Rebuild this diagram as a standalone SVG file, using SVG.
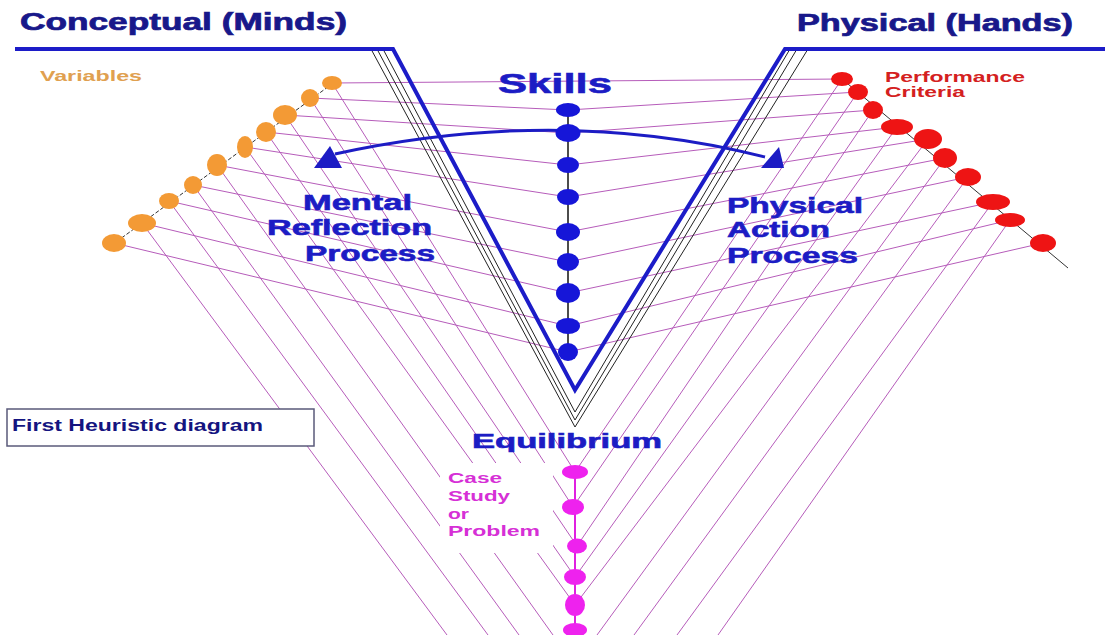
<svg xmlns="http://www.w3.org/2000/svg" width="1105" height="635" viewBox="0 0 1105 635">
<style>
text{font-family:"Liberation Sans",Arial,sans-serif;font-weight:bold}
.pk{stroke:#b65cba;stroke-width:1;fill:none}
.thin{stroke:#222;stroke-width:1;fill:none}
.navy{fill:#18188a;stroke:#18188a;stroke-width:0.7}
.blue{fill:#1c1cc4;stroke:#1c1cc4;stroke-width:0.6}
.or{fill:#f39a35}
.rd{fill:#ee1414}
.mg{fill:#ee22ee}
.sk{fill:#1616d8}
</style>
<rect width="1105" height="635" fill="#fff"/>
<g id="connectors">
<g class="pk">
<line x1="332" y1="83" x2="842" y2="79"/>
<line x1="310" y1="98" x2="568" y2="110"/>
<line x1="285" y1="115" x2="568" y2="133"/>
<line x1="266" y1="132" x2="568" y2="165"/>
<line x1="245" y1="147" x2="568" y2="197"/>
<line x1="217" y1="165" x2="568" y2="232"/>
<line x1="193" y1="185" x2="568" y2="262"/>
<line x1="169" y1="201" x2="568" y2="293"/>
<line x1="142" y1="223" x2="568" y2="326"/>
<line x1="114" y1="243" x2="568" y2="352"/>
<line x1="858" y1="92" x2="568" y2="110"/>
<line x1="873" y1="110" x2="568" y2="133"/>
<line x1="897" y1="127" x2="568" y2="165"/>
<line x1="928" y1="139" x2="568" y2="197"/>
<line x1="945" y1="158" x2="568" y2="232"/>
<line x1="968" y1="177" x2="568" y2="262"/>
<line x1="993" y1="202" x2="568" y2="293"/>
<line x1="1010" y1="220" x2="568" y2="326"/>
<line x1="1043" y1="243" x2="568" y2="352"/>
<line x1="332" y1="83" x2="575" y2="472"/>
<line x1="310" y1="98" x2="573" y2="507"/>
<line x1="285" y1="115" x2="577" y2="546"/>
<line x1="266" y1="132" x2="575" y2="577"/>
<line x1="245" y1="147" x2="575" y2="605"/>
<line x1="217" y1="165" x2="553" y2="635"/>
<line x1="193" y1="185" x2="519" y2="635"/>
<line x1="169" y1="201" x2="488" y2="635"/>
<line x1="142" y1="223" x2="447" y2="635"/>
<line x1="842" y1="79" x2="575" y2="472"/>
<line x1="858" y1="92" x2="573" y2="507"/>
<line x1="873" y1="110" x2="577" y2="546"/>
<line x1="897" y1="127" x2="575" y2="577"/>
<line x1="928" y1="139" x2="575" y2="605"/>
<line x1="945" y1="158" x2="597" y2="635"/>
<line x1="968" y1="177" x2="634" y2="635"/>
<line x1="993" y1="202" x2="677" y2="635"/>
<line x1="1010" y1="220" x2="718" y2="635"/>
</g>
<g class="thin">
<polyline points="371,49 575,427 808,49"/>
<polyline points="377,49 575,420 797,49"/>
<polyline points="383,49 575,412 790,49"/>
</g>
<polyline points="15,49 393,49 575,390 785,49 1105,49" fill="none" stroke="#1c1cc8" stroke-width="4" stroke-linejoin="miter"/>
<line x1="112" y1="245" x2="336" y2="81" stroke="#333" stroke-width="1" stroke-dasharray="4,2"/>
<line x1="842" y1="79" x2="1068" y2="268" stroke="#333" stroke-width="1"/>
<line x1="568" y1="110" x2="568" y2="352" stroke="#111" stroke-width="1.5"/>
<line x1="575" y1="472" x2="575" y2="635" stroke="#e020e0" stroke-width="2"/>
<path d="M335,154 Q560,105 765,157" fill="none" stroke="#1c1cc4" stroke-width="3"/>
<polygon points="314,168 330,146 342,168" fill="#1c1cc4"/>
<polygon points="784,168 779,147 761,168" fill="#1c1cc4"/>
</g>
<g id="case-label">
<rect x="440" y="463" width="113" height="90" fill="#fff"/>
<text x="448" y="483" font-size="14" fill="#d630d6" textLength="54" lengthAdjust="spacingAndGlyphs">Case</text>
<text x="448" y="501" font-size="14" fill="#d630d6" textLength="62" lengthAdjust="spacingAndGlyphs">Study</text>
<text x="448" y="519" font-size="14" fill="#d630d6" textLength="21" lengthAdjust="spacingAndGlyphs">or</text>
<text x="448" y="536" font-size="14" fill="#d630d6" textLength="92" lengthAdjust="spacingAndGlyphs">Problem</text>
</g>
<g id="heuristic-box">
<rect x="7" y="409" width="307" height="37" fill="#fff" stroke="#5a5a7a" stroke-width="1.5"/>
<text x="12" y="431" font-size="16" fill="#141480" textLength="251" lengthAdjust="spacingAndGlyphs">First Heuristic diagram</text>
</g>
<g id="variables">
<ellipse class="or" cx="332" cy="83" rx="10" ry="7"/>
<ellipse class="or" cx="310" cy="98" rx="9" ry="9"/>
<ellipse class="or" cx="285" cy="115" rx="12" ry="10"/>
<ellipse class="or" cx="266" cy="132" rx="10" ry="10"/>
<ellipse class="or" cx="245" cy="147" rx="8" ry="11"/>
<ellipse class="or" cx="217" cy="165" rx="10" ry="11"/>
<ellipse class="or" cx="193" cy="185" rx="9" ry="9"/>
<ellipse class="or" cx="169" cy="201" rx="10" ry="8"/>
<ellipse class="or" cx="142" cy="223" rx="14" ry="9"/>
<ellipse class="or" cx="114" cy="243" rx="12" ry="9"/>
<text x="40" y="81" font-size="15" fill="#e0a050" textLength="102" lengthAdjust="spacingAndGlyphs">Variables</text>
</g>
<g id="performance-criteria">
<ellipse class="rd" cx="842" cy="79" rx="11" ry="7"/>
<ellipse class="rd" cx="858" cy="92" rx="10" ry="8"/>
<ellipse class="rd" cx="873" cy="110" rx="10" ry="9"/>
<ellipse class="rd" cx="897" cy="127" rx="16" ry="8"/>
<ellipse class="rd" cx="928" cy="139" rx="14" ry="10"/>
<ellipse class="rd" cx="945" cy="158" rx="12" ry="10"/>
<ellipse class="rd" cx="968" cy="177" rx="13" ry="9"/>
<ellipse class="rd" cx="993" cy="202" rx="17" ry="8"/>
<ellipse class="rd" cx="1010" cy="220" rx="15" ry="7"/>
<ellipse class="rd" cx="1043" cy="243" rx="13" ry="9"/>
<text x="885" y="82" font-size="15" fill="#d42020" textLength="140" lengthAdjust="spacingAndGlyphs">Performance</text>
<text x="885" y="97" font-size="15" fill="#d42020" textLength="80" lengthAdjust="spacingAndGlyphs">Criteria</text>
</g>
<g id="skills">
<ellipse class="sk" cx="568" cy="110" rx="12" ry="7"/>
<ellipse class="sk" cx="568" cy="133" rx="12.5" ry="9"/>
<ellipse class="sk" cx="568" cy="165" rx="11" ry="8"/>
<ellipse class="sk" cx="568" cy="197" rx="11" ry="8"/>
<ellipse class="sk" cx="568" cy="232" rx="12" ry="9"/>
<ellipse class="sk" cx="568" cy="262" rx="11" ry="9"/>
<ellipse class="sk" cx="568" cy="293" rx="12" ry="10"/>
<ellipse class="sk" cx="568" cy="326" rx="12" ry="8"/>
<ellipse class="sk" cx="568" cy="352" rx="10" ry="9"/>
<text x="498" y="93" font-size="28" class="blue" textLength="114" lengthAdjust="spacingAndGlyphs">Skills</text>
</g>
<g id="case-study">
<ellipse class="mg" cx="575" cy="472" rx="13" ry="7"/>
<ellipse class="mg" cx="573" cy="507" rx="11" ry="8"/>
<ellipse class="mg" cx="577" cy="546" rx="10" ry="7.5"/>
<ellipse class="mg" cx="575" cy="577" rx="11" ry="8"/>
<ellipse class="mg" cx="575" cy="605" rx="10" ry="11"/>
<ellipse class="mg" cx="575" cy="630" rx="12" ry="7"/>
</g>
<g id="headers">
<text x="20" y="30" font-size="23" class="navy" textLength="327" lengthAdjust="spacingAndGlyphs">Conceptual (Minds)</text>
<text x="797" y="31" font-size="23" class="navy" textLength="276" lengthAdjust="spacingAndGlyphs">Physical (Hands)</text>
</g>
<g id="mental-reflection">
<text x="303" y="210" font-size="22" class="blue" textLength="109" lengthAdjust="spacingAndGlyphs">Mental</text>
<text x="267" y="235" font-size="22" class="blue" textLength="165" lengthAdjust="spacingAndGlyphs">Reflection</text>
<text x="305" y="261" font-size="22" class="blue" textLength="130" lengthAdjust="spacingAndGlyphs">Process</text>
</g>
<g id="physical-action">
<text x="727" y="213" font-size="22" class="blue" textLength="136" lengthAdjust="spacingAndGlyphs">Physical</text>
<text x="727" y="237" font-size="22" class="blue" textLength="103" lengthAdjust="spacingAndGlyphs">Action</text>
<text x="727" y="263" font-size="22" class="blue" textLength="131" lengthAdjust="spacingAndGlyphs">Process</text>
</g>
<g id="equilibrium">
<text x="472" y="448" font-size="20" class="blue" textLength="190" lengthAdjust="spacingAndGlyphs">Equilibrium</text>
</g>
</svg>
